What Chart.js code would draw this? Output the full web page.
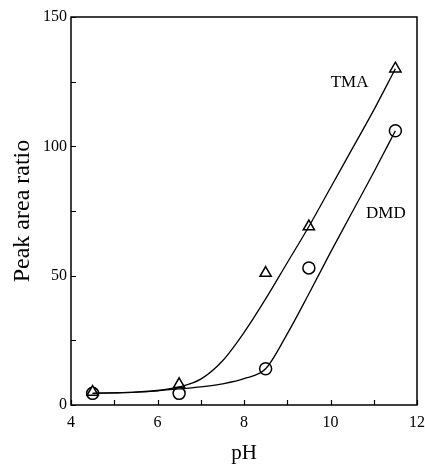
<!DOCTYPE html>
<html>
<head>
<meta charset="utf-8">
<script src="https://cdn.jsdelivr.net/npm/chart.js@4"></script>
<style>
  html, body { margin: 0; padding: 0; background: #fff; }
</style>
</head>
<body>
<canvas id="chart" width="425" height="466"></canvas>
<script>
// Measured points
const tmaPH = [4.5, 6.5, 8.5, 9.5, 11.5];
const tmaRatio = [5, 8, 51, 69, 130];
const dmdPH = [4.5, 6.5, 8.5, 9.5, 11.5];
const dmdRatio = [4.5, 4.5, 14, 53, 106];

// Fitted curves
const tmaCurvePH = [4.5, 5, 5.5, 6, 6.5, 7, 7.5, 8, 8.5, 9, 9.5, 10, 10.5, 11, 11.5];
const tmaCurve = [4.5, 4.7, 5, 5.6, 7, 10, 17, 28, 41, 55, 69, 84, 99, 114, 130];
const dmdCurvePH = [4.5, 5, 5.5, 6, 6.5, 7, 7.5, 8, 8.5, 9, 9.5, 10, 10.5, 11, 11.5];
const dmdCurve = [4.5, 4.7, 5, 5.5, 6.2, 7, 8.2, 10.2, 14, 27.5, 43, 59, 74.5, 90, 106];

// Axis ticks
const xTicks = [4, 6, 8, 10, 12];
const xMinor = [5, 7, 9, 11];
const yTicks = [0, 50, 100, 150];
const yMinor = [25, 75, 125];

// Curve labels
const labels = [
  { text: "TMA", x: 10.44, y: 124.5 },
  { text: "DMD", x: 11.28, y: 74.2 }
];

const serif = "'Liberation Serif', 'DejaVu Serif', serif";

function toXY(xs, ys) {
  return xs.map((x, i) => ({ x: x, y: ys[i] }));
}

// Frame, inward ticks and curve labels
const framePlugin = {
  id: "frame",
  afterDraw(chart) {
    const ctx = chart.ctx;
    const area = chart.chartArea;
    const xs = chart.scales.x;
    const ys = chart.scales.y;
    ctx.save();
    ctx.strokeStyle = "#000";
    ctx.lineWidth = 1.5;
    ctx.strokeRect(area.left, area.top, area.right - area.left, area.bottom - area.top);

    ctx.lineWidth = 1.2;
    ctx.beginPath();
    xTicks.concat(xMinor).forEach((v) => {
      const px = Math.round(xs.getPixelForValue(v)) + 0.5;
      ctx.moveTo(px, area.bottom);
      ctx.lineTo(px, area.bottom - 5);
    });
    yTicks.concat(yMinor).forEach((v) => {
      const py = Math.round(ys.getPixelForValue(v)) + 0.5;
      ctx.moveTo(area.left, py);
      ctx.lineTo(area.left + 5, py);
    });
    ctx.stroke();

    ctx.fillStyle = "#000";
    ctx.font = "17px " + serif;
    ctx.textAlign = "center";
    ctx.textBaseline = "middle";
    labels.forEach((l) => {
      ctx.fillText(l.text, xs.getPixelForValue(l.x), ys.getPixelForValue(l.y));
    });
    ctx.restore();
  }
};

new Chart(document.getElementById("chart"), {
  type: "scatter",
  data: {
    datasets: [
      {
        type: "line",
        data: toXY(tmaCurvePH, tmaCurve),
        borderColor: "#000",
        borderWidth: 1.3,
        pointRadius: 0,
        cubicInterpolationMode: "monotone",
        fill: false
      },
      {
        type: "line",
        data: toXY(dmdCurvePH, dmdCurve),
        borderColor: "#000",
        borderWidth: 1.3,
        pointRadius: 0,
        cubicInterpolationMode: "monotone",
        fill: false
      },
      {
        label: "TMA",
        data: toXY(tmaPH, tmaRatio),
        pointStyle: "triangle",
        pointRadius: 6.5,
        pointBackgroundColor: "#fff",
        pointBorderColor: "#000",
        pointBorderWidth: 1.5
      },
      {
        label: "DMD",
        data: toXY(dmdPH, dmdRatio),
        pointStyle: "circle",
        pointRadius: 6,
        pointBackgroundColor: "#fff",
        pointBorderColor: "#000",
        pointBorderWidth: 1.5
      }
    ]
  },
  options: {
    responsive: false,
    animation: false,
    layout: { padding: { left: 0, right: 7, top: 17, bottom: 0 } },
    plugins: {
      legend: { display: false },
      tooltip: { enabled: false }
    },
    scales: {
      x: {
        type: "linear",
        min: 4,
        max: 12,
        grid: { display: false, drawTicks: false },
        border: { display: false },
        ticks: {
          stepSize: 2,
          color: "#000",
          padding: 8,
          font: { family: serif, size: 16 },
          maxRotation: 0
        },
        title: {
          display: true,
          text: "pH",
          color: "#000",
          font: { family: serif, size: 21 },
          padding: { top: 0, bottom: 0 }
        },
        afterFit(scale) {
          scale.height = 61;
          scale.paddingLeft = 0;
          scale.paddingRight = 0;
        }
      },
      y: {
        min: 0,
        max: 150,
        grid: { display: false, drawTicks: false },
        border: { display: false },
        ticks: {
          stepSize: 50,
          color: "#000",
          padding: 4,
          font: { family: serif, size: 16 }
        },
        title: {
          display: true,
          text: "Peak area ratio",
          color: "#000",
          font: { family: serif, size: 24 },
          padding: { top: 8, bottom: 0 }
        },
        afterFit(scale) {
          scale.width = 71;
          scale.paddingTop = 0;
          scale.paddingBottom = 0;
        }
      }
    }
  },
  plugins: [framePlugin]
});
</script>
</body>
</html>
